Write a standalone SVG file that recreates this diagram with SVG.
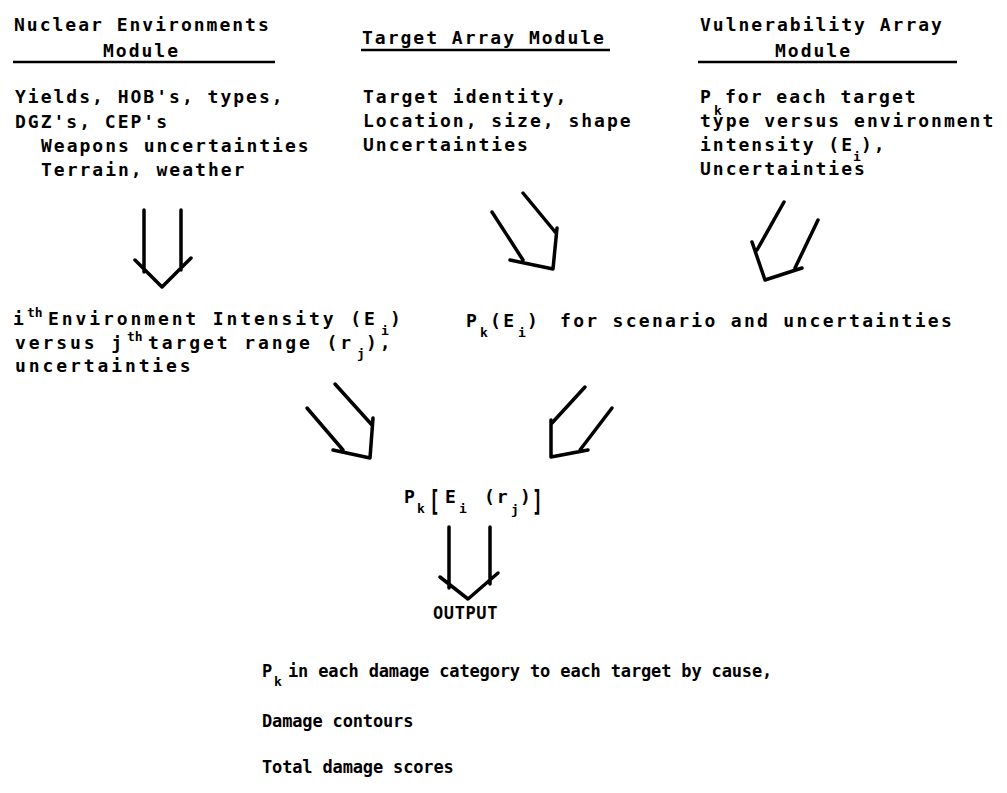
<svg xmlns="http://www.w3.org/2000/svg" width="1007" height="793" viewBox="0 0 1007 793">
<style>
text{font-family:"DejaVu Sans Mono","Liberation Mono",monospace;font-weight:bold;fill:#000}
.t{font-size:18px;letter-spacing:2px}
.m{font-size:18px;letter-spacing:2.9px}
.c{font-size:18px;letter-spacing:2.3px}
.b{font-size:17px;letter-spacing:-0.15px}
.s{font-size:13px}
.br{font-size:18px;font-weight:bold}
.ul{stroke:#000;stroke-width:2.5;fill:none}
.ar{stroke:#000;stroke-width:3.5;fill:none;stroke-linecap:round;stroke-linejoin:round}
</style>
<rect width="1007" height="793" fill="#fff"/>
<g id="nuclear-env">
<text class="t" x="14" y="31">Nuclear Environments</text>
<text class="t" x="103" y="57">Module</text>
<line class="ul" x1="13" y1="62" x2="275" y2="62"/>
<text class="t" x="15" y="103">Yields, HOB's, types,</text>
<text class="t" x="15" y="128">DGZ's, CEP's</text>
<text class="t" x="41" y="152">Weapons uncertainties</text>
<text class="t" x="41" y="176">Terrain, weather</text>
</g>
<g id="target-array">
<text class="t" x="362" y="44">Target Array Module</text>
<line class="ul" x1="361" y1="50" x2="610" y2="50"/>
<text class="t" x="363" y="103">Target identity,</text>
<text class="t" x="363" y="127">Location, size, shape</text>
<text class="t" x="363" y="151">Uncertainties</text>
</g>
<g id="vulnerability-array">
<text class="t" x="700" y="31">Vulnerability Array</text>
<text class="t" x="775" y="57">Module</text>
<line class="ul" x1="698" y1="62" x2="957" y2="62"/>
<text class="t" x="700" y="103">P</text>
<text class="s" x="714" y="115">k</text>
<text class="t" x="725" y="103">for each target</text>
<text class="t" x="700" y="127">type versus environment</text>
<text class="t" x="700" y="151">intensity (E</text>
<text class="s" x="853" y="161">i</text>
<text class="t" x="861" y="151">),</text>
<text class="t" x="700" y="175">Uncertainties</text>
</g>
<g id="env-intensity">
<text class="m" x="13" y="325">i</text>
<text class="s" x="27" y="317">th</text>
<text class="m" x="48" y="325">Environment Intensity (E</text>
<text class="s" x="381" y="335">i</text>
<text class="m" x="390" y="325">)</text>
<text class="m" x="15" y="349">versus j</text>
<text class="s" x="127" y="341">th</text>
<text class="m" x="148" y="349">target range (r</text>
<text class="s" x="357" y="358">j</text>
<text class="m" x="366" y="349">),</text>
<text class="m" x="15" y="372">uncertainties</text>
</g>
<g id="pk-scenario">
<text class="c" x="466" y="327">P</text>
<text class="s" x="480" y="337">k</text>
<text class="c" x="490" y="327">(E</text>
<text class="s" x="518" y="337">i</text>
<text class="c" x="527" y="327">)</text>
<text class="c" x="560" y="327">for scenario and uncertainties</text>
</g>
<g id="pk-combined">
<text class="t" x="404" y="503">P</text>
<text class="s" x="417" y="513">k</text>
<text class="br" transform="translate(429,511) scale(1,1.6)">[</text>
<text class="t" x="445" y="503">E</text>
<text class="s" x="459" y="513">i</text>
<text class="t" x="484" y="503">(r</text>
<text class="s" x="511" y="514">j</text>
<text class="t" x="520" y="503">)</text>
<text class="br" transform="translate(532,511) scale(1,1.6)">]</text>
</g>
<g id="output">
<text class="b" x="433" y="619" style="letter-spacing:0.6px">OUTPUT</text>
<text class="b" x="262" y="677">P</text>
<text class="s" x="274" y="686">k</text>
<text class="b" x="288" y="677">in each damage category to each target by cause,</text>
<text class="b" x="262" y="727">Damage contours</text>
<text class="b" x="262" y="773">Total damage scores</text>
</g>
<g id="connectors">
<path class="ar" d="M144 210V272M181 210V270M135 260L162 287L191 258"/>
<path class="ar" d="M492 212L523 260M523 193L556 233M510 260L553 269L557 228"/>
<path class="ar" d="M784 202L757 250M818 220L795 268M752 242L765 280L802 268"/>
<path class="ar" d="M307 408L343 450M335 384L372 425M333 450L370 458L373 418"/>
<path class="ar" d="M585 387L552 423M612 408L580 450M551 420L551 457L588 450"/>
<path class="ar" d="M449 527V588M490 527V584M440 577L468 599L498 573"/>
</g>
</svg>
